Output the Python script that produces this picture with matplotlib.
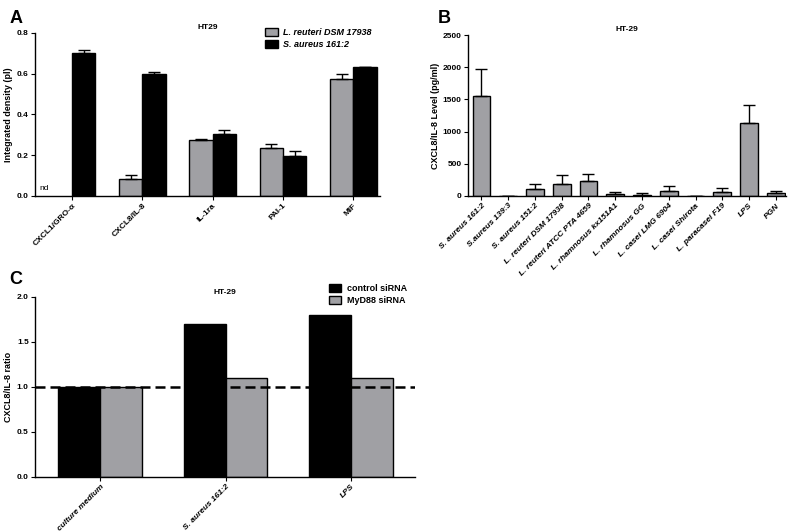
import matplotlib.pyplot as plt
import numpy as np

plt.rcParams['font.family'] = ['Liberation Sans', 'DejaVu Sans']
plt.rcParams['font.weight'] = 'bold'
plt.rcParams['axes.labelweight'] = 'bold'
plt.rcParams['axes.titleweight'] = 'bold'

# Panel A data
a_cats = ['CXCL1/GRO-α', 'CXCL8/IL-8', 'IL-1ra', 'PAI-1', 'MIF']
a_reuteri = [np.nan, 0.085, 0.275, 0.235, 0.572]
a_reuteri_err = [0, 0.02, 0.003, 0.02, 0.028]
a_aureus = [0.70, 0.598, 0.305, 0.195, 0.633]
a_aureus_err = [0.015, 0.012, 0.02, 0.025, 0.002]

# Panel B data
b_cats = ['S. aureus 161:2', 'S.aureus 139:3', 'S. aureus 151:2', 'L. reuteri DSM 17938',
          'L. reuteri ATCC PTA 4659', 'L. rhamnosus kx151A1', 'L. rhamnosus GG',
          'L. casei LMG 6904', 'L. casei Shirota', 'L. paracasei F19', 'LPS', 'PGN']
b_vals = [1550, 0, 104, 181, 228, 36, 20, 78, 5, 62, 1140, 47]
b_err = [430, 0, 77, 139, 113, 21, 21, 77, 2, 57, 280, 36]

# Panel C data
c_cats = ['culture medium', 'S. aureus 161:2', 'LPS']
c_control = [1.0, 1.70, 1.80]
c_myd88 = [1.0, 1.10, 1.10]

gray = '#a0a0a4'
fs = 6


def style(ax):
    ax.spines['top'].set_visible(False)
    ax.spines['right'].set_visible(False)
    ax.tick_params(axis='both', labelsize=fs, length=3, width=0.8, pad=1.5)
    for s in ['left', 'bottom']:
        ax.spines[s].set_linewidth(1)


fig = plt.figure(figsize=(7.98, 5.31), dpi=100)

# ---- A
ax = fig.add_axes([0.0439, 0.6309, 0.4323, 0.307])
x = np.arange(len(a_cats))
w = 0.333
ax.bar(x - w / 2, a_reuteri, w, color=gray, edgecolor='black', linewidth=1,
       yerr=[np.zeros(5), a_reuteri_err], capsize=4, error_kw=dict(elinewidth=1, capthick=1),
       label='L. reuteri DSM 17938')
ax.bar(x + w / 2, a_aureus, w, color='black', edgecolor='black', linewidth=1,
       yerr=[np.zeros(5), a_aureus_err], capsize=4, error_kw=dict(elinewidth=1, capthick=1),
       label='S. aureus 161:2')
ax.text(-0.47, 0.03, 'nd', fontsize=fs, fontweight='normal')
ax.set_xlim(-0.525, 4.38)
ax.set_ylim(0, 0.8)
ax.set_yticks([0, 0.2, 0.4, 0.6, 0.8])
ax.set_xticks(x)
ax.set_xticklabels(a_cats, rotation=45, ha='right', rotation_mode='anchor')
ax.set_ylabel('Integrated density (pl)', fontsize=6.5, labelpad=3)
ax.set_title('HT29', fontsize=fs, pad=3)
style(ax)
leg = ax.legend(loc='upper right', bbox_to_anchor=(1.0, 1.08), fontsize=6.5, frameon=False,
                handlelength=1.4, handleheight=1.0, labelspacing=0.35, handletextpad=0.6)
for t in leg.get_texts():
    t.set_fontstyle('italic')
fig.text(0.012, 0.965, 'A', fontsize=13, fontweight='bold', va='center')

# ---- B
ax = fig.add_axes([0.5865, 0.6309, 0.3985, 0.3031])
x = np.arange(len(b_cats))
ax.bar(x, b_vals, 0.66, color=gray, edgecolor='black', linewidth=1,
       yerr=[np.zeros(len(b_vals)), b_err], capsize=4, error_kw=dict(elinewidth=1, capthick=1))
ax.set_xlim(-0.5, 11.38)
ax.set_ylim(0, 2500)
ax.set_yticks([0, 500, 1000, 1500, 2000, 2500])
ax.set_xticks(x)
ax.set_xticklabels(b_cats, rotation=45, ha='right', rotation_mode='anchor', fontstyle='italic')
ax.set_ylabel('CXCL8/IL-8 Level (pg/ml)', fontsize=6.5, labelpad=2)
ax.set_title('HT-29', fontsize=fs, pad=3)
style(ax)
fig.text(0.548, 0.965, 'B', fontsize=13, fontweight='bold', va='center')

# ---- C
ax = fig.add_axes([0.0439, 0.1017, 0.4762, 0.339])
x = np.arange(len(c_cats))
ax.bar(x - w / 2, c_control, w, color='black', edgecolor='black', linewidth=1, label='control siRNA')
ax.bar(x + w / 2, c_myd88, w, color=gray, edgecolor='black', linewidth=1, label='MyD88 siRNA')
ax.axhline(1.0, color='black', linestyle=(0, (4, 2)), linewidth=1.8)
ax.set_xlim(-0.52, 2.51)
ax.set_ylim(0, 2.0)
ax.set_yticks([0, 0.5, 1.0, 1.5, 2.0])
ax.set_xticks(x)
ax.set_xticklabels(c_cats, rotation=45, ha='right', rotation_mode='anchor', fontstyle='italic')
ax.set_ylabel('CXCL8/IL-8 ratio', fontsize=6.5, labelpad=3)
ax.set_title('HT-29', fontsize=fs, pad=2)
style(ax)
ax.legend(loc='upper right', bbox_to_anchor=(1.0, 1.12), fontsize=6.5, frameon=False,
          handlelength=1.4, handleheight=1.0, labelspacing=0.35, handletextpad=0.6)
fig.text(0.012, 0.473, 'C', fontsize=13, fontweight='bold', va='center')

fig.savefig('out.png', dpi=100)
